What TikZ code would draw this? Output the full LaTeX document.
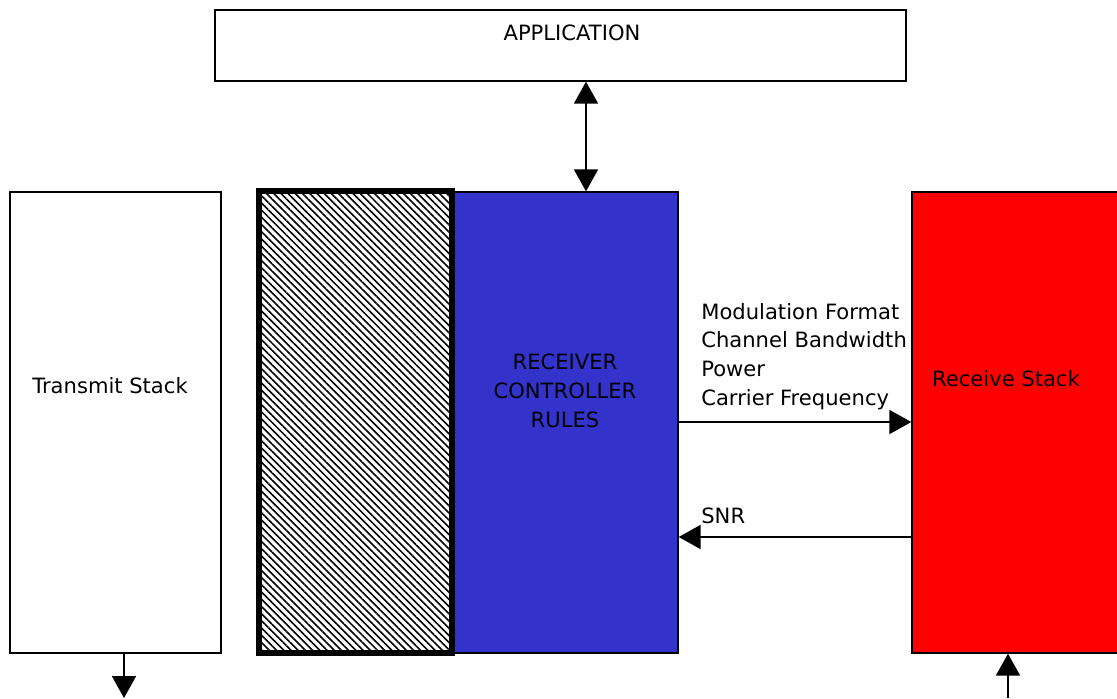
\documentclass[tikz,border=0pt]{standalone}
\usepackage{fontspec}
\setmainfont{DejaVu Sans}
\usetikzlibrary{arrows.meta,patterns.meta}
\definecolor{ctrlblue}{RGB}{51,51,204}
\definecolor{rxred}{RGB}{255,0,0}
\tikzset{
  stack/.style={draw, line width=0.8pt, minimum height=9.22cm, inner sep=0pt},
  sig/.style={line width=1.1pt},
  txt/.style={font=\fontsize{12}{16.4}\selectfont, align=center, inner sep=0pt},
}

\begin{document}
\begin{tikzpicture}[x=0.02cm, y=-0.02cm, >={Triangle[length=0.44cm,width=0.48cm]}]
  \useasboundingbox (0,0) rectangle (1117,698);

  % 1. 顶部应用层
  \node[draw, line width=0.8pt, minimum width=13.82cm, minimum height=1.42cm, inner sep=0pt] (app) at (560.5,45.5) {};
  \node[txt] (apptext) at (572,33) {APPLICATION};

  % 2. 三个栈体 (控制器左侧为斜线填充块)
  \node[stack, minimum width=4.22cm] (tx) at (115.5,422.5) {};
  \node[stack, fill=ctrlblue, minimum width=4.52cm] (ctrl) at (565,422.5) {};
  \node[stack, line width=3.2pt, minimum width=3.86cm, minimum height=9.24cm,
        pattern={Lines[angle=-45,distance=2.9pt,line width=0.9pt]}] (hatch) at (355.5,422) {};
  \node[stack, fill=rxred, minimum width=4.6cm] (rx) at (1027,422.5) {};

  % 3. 栈体文字
  \node[txt] (txtext) at (110,386) {Transmit Stack};
  \node[txt] (ctrltext) at (565,391) {RECEIVER\\CONTROLLER\\RULES};
  \node[txt] (rxtext) at (1006,379) {Receive Stack};

  % 4. 连接箭头
  \coordinate (appx) at (586,0);
  \draw[sig, <->] (app.south -| appx) -- (ctrl.north -| appx);

  \coordinate (cmdy) at (0,422);
  \draw[sig, ->] (ctrl.east |- cmdy) -- (rx.west |- cmdy);
  \coordinate (snry) at (0,537);
  \draw[sig, ->] (rx.west |- snry) -- (ctrl.east |- snry);

  \coordinate (txout) at (124,698);
  \draw[sig, ->] (tx.south -| txout) -- (txout);
  \coordinate (rxin) at (1008,698);
  \draw[sig, ->] (rxin) -- (rx.south -| rxin);

  % 5. 箭头标签
  \node[txt, align=left, anchor=west] (cmdlbl) at (701,356.5)
    {Modulation Format\\Channel Bandwidth\\Power\\Carrier Frequency};
  \node[txt, anchor=west] (snrlbl) at (701,516) {SNR};
\end{tikzpicture}
\end{document}
